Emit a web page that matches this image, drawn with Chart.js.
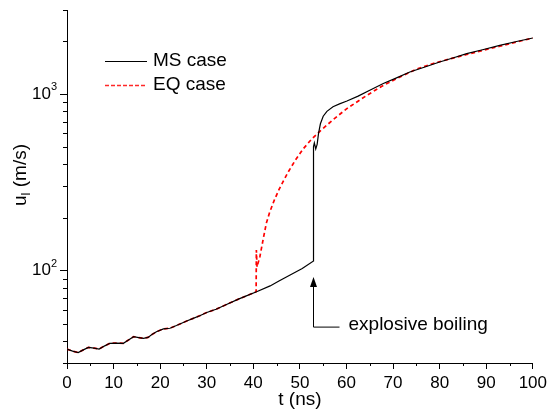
<!DOCTYPE html>
<html lang="en">
<head>
<meta charset="UTF-8">
<title>u_l vs t</title>
<script src="https://cdn.jsdelivr.net/npm/chart.js"></script>
<style>
  body { margin: 0; background: #fff; }
  canvas { display: block; }
</style>
</head>
<body>
<canvas id="velChart" width="551" height="410"></canvas>
<script>
// MS case
var msTime = [0, 1.2, 2.4, 3.5, 4.6, 5.8, 6.9, 8.0, 9.2, 10.6, 12.1, 13.2, 14.3, 15.4, 16.4, 17.4, 18.3, 19.2, 20.7, 22.1,
  23.5, 25.7, 27.1, 28.5, 30, 32, 34, 36.8, 38.5, 40.7, 43.6, 45.5, 47.9, 50.5, 52.9, 52.92, 53.1, 53.4, 53.7, 54.0,
  54.4, 55.0, 55.8, 57.1, 58.5, 60.1, 62.5, 65, 67.9, 70.5, 73.6, 77, 80, 83, 85.8, 89, 92.9, 96.5, 100];
var msVel = [36, 35.0, 34.4, 35.6, 36.8, 36.4, 36.0, 37.4, 38.8, 38.9, 38.8, 40.5, 42.3, 41.8, 41.4, 41.9, 43.6, 45.1, 46.8, 47.2,
  48.9, 51.9, 53.7, 55.6, 58, 60.5, 64, 69, 72, 76, 82, 87.5, 94.6, 103, 113.5, 505, 530, 490, 520, 600,
  680, 750, 800, 850, 882, 915, 975, 1052, 1149, 1230, 1337, 1430, 1523, 1610, 1699, 1780, 1893, 1990, 2083];

// EQ case
var eqTime = [0, 1.2, 2.4, 3.5, 4.6, 5.8, 6.9, 8.0, 9.2, 10.6, 12.1, 13.2, 14.3, 15.4, 16.4, 17.4, 18.3, 19.2, 20.7, 22.1,
  23.5, 25.7, 27.1, 28.5, 30, 32, 34, 36.8, 38.5, 40.6, 40.65, 40.8, 41.0, 41.4, 42.2, 42.8, 43.5, 44.5, 45.5, 46.5,
  47.5, 49, 50.7, 52.5, 54.5, 57.1, 60, 62.9, 64.3, 67.5, 71.5, 75, 78.6, 82, 85.8, 89.5, 92.9, 96.5, 100];
var eqVel = [36, 35.0, 34.4, 35.6, 36.8, 36.4, 36.0, 37.4, 38.8, 38.9, 38.8, 40.5, 42.3, 41.8, 41.4, 41.9, 43.6, 45.1, 46.8, 47.2,
  48.9, 51.9, 53.7, 55.6, 58, 60.5, 64, 69, 72, 76, 131, 105, 110, 120, 155, 186, 214, 251, 288, 324,
  363, 422, 490, 556, 624, 716, 826, 929, 982, 1107, 1253, 1387, 1492, 1580, 1678, 1778, 1870, 1975, 2083];

var seriesNames = ['MS case', 'EQ case'];

// axes
var xMajor = [0, 10, 20, 30, 40, 50, 60, 70, 80, 90, 100];
var xMinor = [5, 15, 25, 35, 45, 55, 65, 75, 85, 95];
var yMajor = [100, 1000];
var yTickExp = ['2', '3'];
var yMinor = [30, 40, 50, 60, 70, 80, 90, 200, 300, 400, 500, 600, 700, 800, 900, 2000, 3000];

// annotation
var noteT = 52.9;
var noteU = 92;
var noteText = 'explosive boiling';

var FONT = '"Liberation Sans", Arial, sans-serif';

function toPoints(ts, us) {
  return ts.map(function (t, i) { return { x: t, y: us[i] }; });
}

var extras = {
  id: 'extras',
  afterDraw: function (chart) {
    var ctx = chart.ctx;
    var xs = chart.scales.x, ys = chart.scales.y;
    var left = chart.chartArea.left, bottom = chart.chartArea.bottom;
    ctx.save();
    ctx.strokeStyle = '#000';
    ctx.fillStyle = '#000';
    ctx.lineWidth = 1;

    // minor ticks
    ctx.beginPath();
    xMinor.forEach(function (v) {
      var px = Math.round(xs.getPixelForValue(v)) + 0.5;
      ctx.moveTo(px, bottom); ctx.lineTo(px, bottom + 3);
    });
    yMinor.forEach(function (v) {
      var py = Math.round(ys.getPixelForValue(v)) + 0.5;
      ctx.moveTo(left - 4, py); ctx.lineTo(left, py);
    });
    ctx.stroke();

    // y tick labels 10^n
    ctx.textBaseline = 'middle';
    yMajor.forEach(function (v, i) {
      var py = ys.getPixelForValue(v);
      ctx.font = '11px ' + FONT;
      var ew = ctx.measureText(yTickExp[i]).width;
      ctx.textAlign = 'left';
      ctx.fillText(yTickExp[i], left - 10 - ew, py - 7);
      ctx.font = '17px ' + FONT;
      ctx.textAlign = 'right';
      ctx.fillText('10', left - 10 - ew, py);
    });

    // y axis title  u_l (m/s)
    ctx.save();
    ctx.translate(21, 175);
    ctx.rotate(-Math.PI / 2);
    ctx.textAlign = 'left';
    ctx.font = '19px ' + FONT;
    var w1 = ctx.measureText('u').width;
    var w3 = ctx.measureText(' (m/s)').width;
    ctx.font = '13px ' + FONT;
    var w2 = ctx.measureText('l').width;
    var x0 = -(w1 + w2 + w3) / 2;
    ctx.font = '19px ' + FONT;
    ctx.fillText('u', x0, 0);
    ctx.fillText(' (m/s)', x0 + w1 + w2, 0);
    ctx.font = '13px ' + FONT;
    ctx.fillText('l', x0 + w1, 5);
    ctx.restore();

    // legend
    ctx.font = '19px ' + FONT;
    ctx.textAlign = 'left';
    ctx.beginPath();
    ctx.moveTo(105, 61.5); ctx.lineTo(147, 61.5);
    ctx.stroke();
    ctx.fillText(seriesNames[0], 153, 61);
    ctx.save();
    ctx.strokeStyle = 'rgb(255, 40, 40)';
    ctx.lineWidth = 1.4;
    ctx.setLineDash([4, 2]);
    ctx.beginPath();
    ctx.moveTo(105, 85.5); ctx.lineTo(147, 85.5);
    ctx.stroke();
    ctx.restore();
    ctx.fillText(seriesNames[1], 153, 85);

    // arrow annotation
    var ax = Math.round(xs.getPixelForValue(noteT)) + 0.5;
    var ay = ys.getPixelForValue(noteU);
    ctx.beginPath();
    ctx.moveTo(ax, ay);
    ctx.lineTo(ax - 3.5, ay + 10);
    ctx.lineTo(ax + 3.5, ay + 10);
    ctx.closePath();
    ctx.fill();
    ctx.beginPath();
    ctx.moveTo(ax, ay + 9);
    ctx.lineTo(ax, ay + 50);
    ctx.lineTo(ax + 26, ay + 50);
    ctx.stroke();
    ctx.fillText(noteText, ax + 35, ay + 48);

    ctx.restore();
  }
};

new Chart(document.getElementById('velChart').getContext('2d'), {
  type: 'line',
  data: {
    datasets: [
      {
        label: seriesNames[0],
        data: toPoints(msTime, msVel),
        borderColor: '#000',
        borderWidth: 1.2,
        pointRadius: 0,
        tension: 0,
        order: 0
      },
      {
        label: seriesNames[1],
        data: toPoints(eqTime, eqVel),
        borderColor: '#ff0000',
        borderWidth: 1.7,
        borderDash: [4, 3],
        pointRadius: 0,
        tension: 0,
        order: 1
      }
    ]
  },
  options: {
    responsive: false,
    animation: false,
    layout: { padding: { top: 10, right: 18, left: 0, bottom: 0 } },
    plugins: { legend: { display: false }, tooltip: { enabled: false } },
    scales: {
      x: {
        type: 'linear',
        min: 0,
        max: 100,
        afterFit: function (s) { s.height = 47; },
        afterBuildTicks: function (s) { s.ticks = xMajor.map(function (v) { return { value: v }; }); },
        ticks: { color: '#000', font: { family: FONT, size: 17 }, padding: 4, maxRotation: 0 },
        grid: { drawOnChartArea: false, drawTicks: true, tickLength: 6, tickColor: '#000', tickWidth: 1 },
        border: { display: true, color: '#000', width: 1 },
        title: { display: true, text: 't (ns)', color: '#000', font: { family: FONT, size: 19, lineHeight: 1 }, padding: { top: 0, bottom: 1 } }
      },
      y: {
        type: 'logarithmic',
        min: 30,
        max: 3000,
        afterFit: function (s) { s.width = 67; },
        afterBuildTicks: function (s) { s.ticks = yMajor.map(function (v) { return { value: v }; }); },
        ticks: { display: false },
        grid: { drawOnChartArea: false, drawTicks: true, tickLength: 7, tickColor: '#000', tickWidth: 1 },
        border: { display: true, color: '#000', width: 1 }
      }
    }
  },
  plugins: [extras]
});
</script>
</body>
</html>
